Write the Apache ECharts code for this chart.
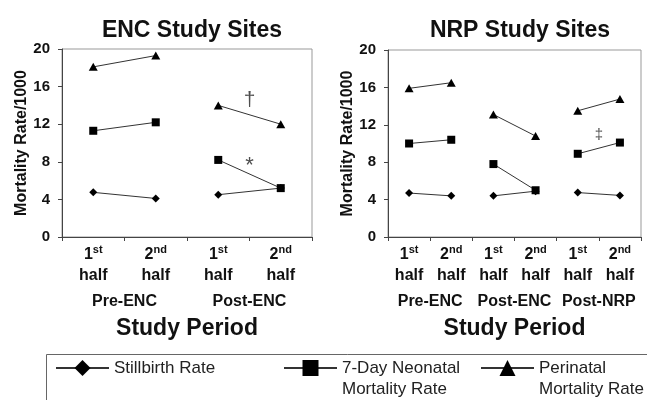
<!DOCTYPE html>
<html><head><meta charset="utf-8">
<script src="https://cdn.jsdelivr.net/npm/echarts@6/dist/echarts.min.js"></script>
<style>html,body{margin:0;padding:0;background:#fff}#c{width:647px;height:400px}</style>
</head><body><div id="c"></div>
<script>
const leftCategories = ['Pre-ENC 1st half','Pre-ENC 2nd half','Post-ENC 1st half','Post-ENC 2nd half'];
const leftGroups = ['Pre-ENC','Post-ENC'];
const leftStillbirth = [4.75, 4.1, 4.5, 5.2];
const leftNeonatal = [11.3, 12.2, 8.2, 5.2];
const leftPerinatal = [18.1, 19.3, 14.0, 12.0];

const rightCategories = ['Pre-ENC 1st half','Pre-ENC 2nd half','Post-ENC 1st half','Post-ENC 2nd half','Post-NRP 1st half','Post-NRP 2nd half'];
const rightGroups = ['Pre-ENC','Post-ENC','Post-NRP'];
const rightStillbirth = [4.7, 4.4, 4.4, 4.9, 4.75, 4.45];
const rightNeonatal = [10.0, 10.4, 7.8, 5.0, 8.9, 10.1];
const rightPerinatal = [15.9, 16.5, 13.1, 10.8, 13.5, 14.75];

const yTicks = [0, 4, 8, 12, 16, 20];
const leftAnnotations = [[3, 14.6, '†'], [3, 7.6, '*']];
const rightAnnotations = [[5, 10.9, '‡']];

const titles = ['ENC Study Sites', 'NRP Study Sites'];
const yAxisName = 'Mortality Rate/1000';
const xAxisName = 'Study Period';
const seriesNames = ['Stillbirth Rate', '7-Day Neonatal Mortality Rate', 'Perinatal Mortality Rate'];
const legendLines = [['Stillbirth Rate'], ['7-Day Neonatal', 'Mortality Rate'], ['Perinatal', 'Mortality Rate']];

const F = 'Liberation Sans, Arial, sans-serif';
const symbols = ['diamond', 'rect', 'triangle'];
const symbolSizes = [8, 8, [9, 8]];

function halfLabel(v) {
  const p = v.split(' ');
  return '{n|' + p[1].slice(0, 1) + '}{s|' + p[1].slice(1) + '}\n{n|' + p[2] + '}';
}

function legendText(lines) {
  // keep the first text line level with the legend symbol
  const pad = lines.length > 1 ? '{e| }\n' : '';
  return pad + lines.map(l => '{t|' + l + '}').join('\n');
}

function pairSeries(values, name, k, xIdx, yIdx) {
  const out = [];
  const nGroups = values.length / 2;
  for (let g = 0; g < nGroups; g++) {
    out.push({
      type: 'line', name: name, xAxisIndex: xIdx, yAxisIndex: yIdx,
      data: values.map((v, i) => (Math.floor(i / 2) === g ? v : null)),
      symbol: symbols[k], symbolSize: symbolSizes[k], showSymbol: true,
      connectNulls: false, animation: false, z: 3,
      lineStyle: { color: '#333', width: 1 },
      itemStyle: { color: '#000' }
    });
  }
  return out;
}

function annoSeries(list, xIdx, yIdx, size) {
  return {
    type: 'scatter', xAxisIndex: xIdx, yAxisIndex: yIdx, symbolSize: 0, animation: false,
    data: list.map(a => ({ value: [a[0], a[1]], label: { formatter: a[2] } })),
    label: { show: true, position: 'inside', color: '#222', fontFamily: F, fontSize: size },
    silent: true, z: 4
  };
}

const axisLineStyle = { color: '#444', width: 1 };

function yAxis(gridIndex) {
  return {
    type: 'value', gridIndex: gridIndex,
    min: yTicks[0], max: yTicks[yTicks.length - 1], interval: yTicks[1] - yTicks[0],
    name: yAxisName, nameLocation: 'middle', nameGap: 30, nameRotate: 90,
    nameTextStyle: { fontFamily: F, fontSize: 16, fontWeight: 'bold', color: '#111' },
    axisLine: { show: true, lineStyle: axisLineStyle },
    axisTick: { show: true, length: 4, lineStyle: axisLineStyle },
    axisLabel: { fontFamily: F, fontSize: 15, fontWeight: 'bold', color: '#111', margin: 12 },
    splitLine: { show: false }
  };
}

function catAxis(gridIndex, cats) {
  return {
    type: 'category', gridIndex: gridIndex, data: cats, position: 'bottom', boundaryGap: true,
    axisLine: { show: true, lineStyle: axisLineStyle },
    axisTick: { show: true, length: 4, lineStyle: axisLineStyle },
    axisLabel: {
      interval: 0, margin: 7, formatter: halfLabel,
      rich: {
        n: { fontFamily: F, fontSize: 16, fontWeight: 'bold', color: '#111', lineHeight: 21 },
        s: { fontFamily: F, fontSize: 11, fontWeight: 'bold', color: '#111', lineHeight: 13, verticalAlign: 'top' }
      }
    }
  };
}

function groupAxis(gridIndex, groups) {
  return {
    type: 'category', gridIndex: gridIndex, data: groups, position: 'bottom', offset: 0, boundaryGap: true,
    axisLine: { show: false }, axisTick: { show: false },
    axisLabel: { interval: 0, margin: 57, fontFamily: F, fontSize: 16, fontWeight: 'bold', color: '#111' },
    name: xAxisName, nameLocation: 'middle', nameGap: 80,
    nameTextStyle: { fontFamily: F, fontSize: 23, fontWeight: 'bold', color: '#111' }
  };
}

function hiddenAxis(gridIndex, n) {
  return { type: 'value', gridIndex: gridIndex, min: 0, max: n, show: false, position: 'top' };
}

const series = [];
[leftStillbirth, leftNeonatal, leftPerinatal].forEach((vals, k) => series.push(...pairSeries(vals, seriesNames[k], k, 0, 0)));
[rightStillbirth, rightNeonatal, rightPerinatal].forEach((vals, k) => series.push(...pairSeries(vals, seriesNames[k], k, 3, 1)));
series.push(annoSeries(leftAnnotations.slice(0, 1), 2, 0, 21));
series.push(annoSeries(leftAnnotations.slice(1), 2, 0, 22));
series.push(annoSeries(rightAnnotations, 5, 1, 15));

const legendLeft = [55, 283, 480];
const option = {
  backgroundColor: '#fff',
  animation: false,
  title: [
    { text: titles[0], left: 187, top: 14, textAlign: 'center', textStyle: { fontFamily: F, fontSize: 23, fontWeight: 'bold', color: '#111' } },
    { text: titles[1], left: 515, top: 14, textAlign: 'center', textStyle: { fontFamily: F, fontSize: 23, fontWeight: 'bold', color: '#111' } }
  ],
  grid: [
    { left: 62, top: 49, width: 250, height: 188, show: true, borderColor: '#999', borderWidth: 1, containLabel: false },
    { left: 388, top: 50, width: 253, height: 187, show: true, borderColor: '#999', borderWidth: 1, containLabel: false }
  ],
  xAxis: [
    catAxis(0, leftCategories), groupAxis(0, leftGroups), hiddenAxis(0, leftCategories.length),
    catAxis(1, rightCategories), groupAxis(1, rightGroups), hiddenAxis(1, rightCategories.length)
  ],
  yAxis: [yAxis(0), yAxis(1)],
  legend: seriesNames.map((n, i) => ({
    data: [n], left: legendLeft[i], top: legendLines[i].length > 1 ? 338.5 : 359.5,
    itemWidth: 53, itemHeight: 20, itemGap: 0, padding: 0, selectedMode: false,
    formatter: () => legendText(legendLines[i]),
    textStyle: {
      fontFamily: F, fontSize: 17, color: '#222',
      rich: {
        e: { fontFamily: F, fontSize: 17, lineHeight: 21 },
        t: { fontFamily: F, fontSize: 17, lineHeight: 21, color: '#222' }
      }
    }
  })),
  graphic: [
    { type: 'rect', left: 44, top: 352, shape: { x: 0, y: 0, width: 640, height: 80 }, style: { fill: 'none', stroke: '#666', lineWidth: 1 }, z: -1 }
  ],
  series: series
};

const chart = echarts.init(document.getElementById('c'), null, { renderer: 'canvas' });
chart.setOption(option);
</script>
</body></html>
